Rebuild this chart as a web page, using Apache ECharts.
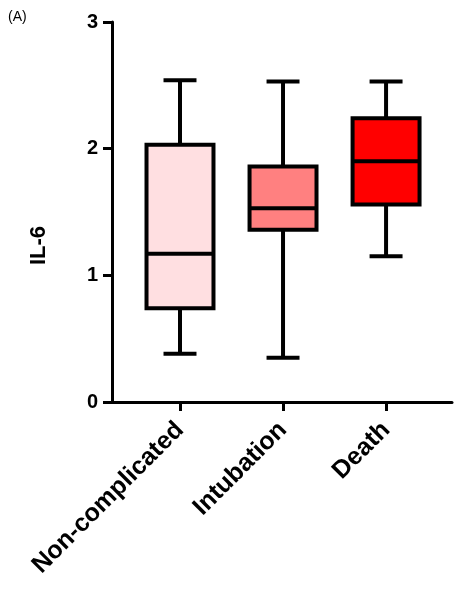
<!DOCTYPE html>
<html><head><meta charset="utf-8">
<script src="https://cdn.jsdelivr.net/npm/echarts@6/dist/echarts.min.js"></script>
<style>body{margin:0}#main{width:456px;height:608px}</style>
</head><body><div id="main"></div>
<script>
var categories = ['Non-complicated', 'Intubation', 'Death'];
// [min, Q1, median, Q3, max]
var boxValues = [
    [0.38, 0.74, 1.17, 2.03, 2.54],
    [0.35, 1.36, 1.53, 1.86, 2.53],
    [1.15, 1.56, 1.90, 2.24, 2.53]
];
var boxColors = ['#ffdfe1', '#ff8080', '#ff0000'];
var yTicks = [0, 1, 2, 3];
var catPos = [0, 1, 2];

var myChart = echarts.init(document.getElementById('main'));

function renderBox(params, api) {
    var i = api.value(0);
    var v = boxValues[i];
    var band = api.size([1, 0])[0];
    var bw = band * 0.65, cw = band * 0.32;
    var pMin = api.coord([i, v[0]]), pQ1 = api.coord([i, v[1]]), pMed = api.coord([i, v[2]]);
    var pQ3 = api.coord([i, v[3]]), pMax = api.coord([i, v[4]]);
    var x = pMin[0];
    var ln = {stroke: '#000', lineWidth: 4};
    return {
        type: 'group',
        children: [
            {type: 'line', shape: {x1: x, y1: pMax[1], x2: x, y2: pQ3[1]}, style: ln},
            {type: 'line', shape: {x1: x, y1: pQ1[1], x2: x, y2: pMin[1]}, style: ln},
            {type: 'line', shape: {x1: x - cw / 2, y1: pMax[1], x2: x + cw / 2, y2: pMax[1]}, style: ln},
            {type: 'line', shape: {x1: x - cw / 2, y1: pMin[1], x2: x + cw / 2, y2: pMin[1]}, style: ln},
            {type: 'rect', shape: {x: x - bw / 2, y: pQ3[1], width: bw, height: pQ1[1] - pQ3[1]},
                style: {fill: boxColors[i], stroke: '#000', lineWidth: 4}},
            {type: 'line', shape: {x1: x - bw / 2, y1: pMed[1], x2: x + bw / 2, y2: pMed[1]}, style: ln}
        ]
    };
}

option = {
    animation: false,
    textStyle: {fontFamily: 'Arial, Liberation Sans'},
    graphic: [
        {type: 'text', left: 8, top: 10, style: {text: '(A)', fontSize: 14, fill: '#000', fontFamily: 'Arial, Liberation Sans'}},
        {type: 'text', left: 28, top: 226, rotation: Math.PI / 2,
            style: {text: 'IL-6', fontSize: 22, fontWeight: 'bold', fill: '#000', fontFamily: 'Arial, Liberation Sans'}}
    ],
    grid: {left: 112, right: 4, top: 22, bottom: 206},
    xAxis: {
        type: 'value',
        min: -0.66, max: 2.64,
        splitLine: {show: false},
        axisLine: {onZero: false, lineStyle: {color: '#000', width: 3}},
        axisTick: {show: true, customValues: catPos, length: 9, lineStyle: {color: '#000', width: 3}},
        axisLabel: {
            customValues: catPos, rotate: 45, color: '#000', fontSize: 25, fontWeight: 'bold', margin: 24,
            formatter: function (v) { return categories[Math.round(v)]; }
        }
    },
    yAxis: {
        type: 'value',
        min: yTicks[0], max: yTicks[yTicks.length - 1], interval: 1,
        splitLine: {show: false},
        axisLine: {show: true, onZero: false, lineStyle: {color: '#000', width: 3}},
        axisTick: {show: true, length: 9, lineStyle: {color: '#000', width: 3}},
        axisLabel: {color: '#000', fontSize: 20, fontWeight: 'bold', margin: 14}
    },
    series: [{
        type: 'custom',
        renderItem: renderBox,
        data: categories.map(function (c, i) { return [i, boxValues[i][4]]; })
    }]
};
myChart.setOption(option);
</script>
</body></html>
